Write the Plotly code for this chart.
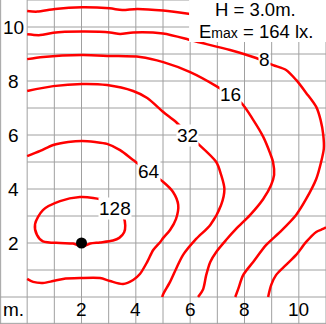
import plotly.graph_objects as go

# ---- data (metres) ----
c4_x = [0, 0.37, 1.03, 2.02, 3.04, 3.5, 4.05, 5.0, 6.0, 6.5]
c4_y = [10.59, 10.57, 10.67, 10.73, 10.69, 10.63, 10.67, 10.61, 10.48, 10.4]

c8_x = [0, 0.48, 0.96, 2.02, 3.05, 3.42, 3.90, 5.0, 5.93, 6.22, 7.47, 8.43, 9.05, 9.53,
        9.90, 10.27, 10.64, 10.80, 10.90, 10.92, 10.82, 10.64, 10.27, 9.90, 9.31, 8.80,
        8.32, 7.95, 7.77, 7.66]
c8_y = [9.73, 9.70, 9.79, 9.83, 9.80, 9.74, 9.80, 9.76, 9.54, 9.46, 9.15, 8.85, 8.59, 8.41,
        8.04, 7.56, 7.04, 6.56, 6.0, 5.5, 5.0, 4.37, 3.63, 3.04, 2.41, 1.93,
        1.30, 0.81, 0.30, 0]

c16_x = [0, 0.59, 2.02, 3.05, 4.16, 5.01, 6.0, 6.96, 7.88, 8.32, 8.69, 8.94, 9.05, 9.09,
         8.98, 8.69, 8.21, 7.69, 7.32, 6.96, 6.74, 6.59, 6.48, 6.29]
c16_y = [8.81, 8.89, 8.96, 8.93, 8.89, 8.70, 8.33, 7.81, 7.19, 6.56, 5.93, 5.33, 5.0, 4.52,
         4.15, 3.63, 3.04, 2.52, 2.11, 1.67, 1.30, 0.81, 0.30, 0]

c32_x = [0, 0.96, 2.02, 2.94, 3.90, 4.42, 5.01, 5.48, 5.92, 6.22, 6.96, 7.14, 7.26, 7.14,
         6.74, 6.22, 5.74, 5.48, 5.26, 5.01, 4.97]
c32_y = [7.63, 7.81, 7.89, 7.85, 7.63, 7.37, 6.85, 6.48, 6.02, 5.74, 5.0, 4.52, 4.0, 3.41,
         2.67, 2.15, 1.56, 1.04, 0.56, 0.11, 0]

c64_x = [0, 0.48, 0.96, 1.51, 2.02, 2.50, 2.94, 3.42, 3.90, 4.48, 5.01, 5.37, 5.56, 5.48,
         5.26, 5.01, 4.90, 4.64, 4.42, 4.15, 3.90, 3.53, 3.05, 2.68, 1.95, 1.32, 0.95,
         0.58, 0.22, 0]
c64_y = [5.22, 5.41, 5.63, 5.74, 5.78, 5.74, 5.67, 5.44, 5.07, 4.63, 4.26, 3.89, 3.41, 2.89,
         2.48, 2.19, 2.04, 1.74, 1.30, 0.85, 0.63, 0.48, 0.59, 0.70, 0.70, 0.67, 0.59,
         0.52, 0.56, 0.67]

c128_x = [1.21, 1.94, 2.43, 2.87, 3.30, 3.55, 3.61, 3.57, 3.39, 3.16, 2.68, 2.32, 2.04,
          1.69, 1.21, 0.58, 0.36, 0.29, 0.58, 1.21]
c128_y = [3.55, 3.70, 3.67, 3.57, 3.28, 2.95, 2.65, 2.40, 2.19, 2.09, 2.02, 1.98, 1.87,
          1.98, 2.00, 2.06, 2.30, 2.70, 3.22, 3.55]

cR_x = [11.0, 10.89, 10.64, 10.27, 9.90, 9.53, 9.16, 8.98, 8.87]
cR_y = [2.58, 2.52, 2.41, 2.04, 1.56, 1.19, 0.81, 0.44, 0]

contours = [(c4_x, c4_y), (c8_x, c8_y), (c16_x, c16_y), (c32_x, c32_y),
            (c64_x, c64_y), (c128_x, c128_y), (cR_x, cR_y)]

label_text = ["8", "16", "32", "64", "128"]
label_x = [8.72, 7.48, 5.92, 4.48, 3.23]
label_y = [8.78, 7.50, 5.98, 4.63, 3.28]

lamp_x = [2]
lamp_y = [2]

tick_vals = [2, 4, 6, 8, 10]
tick_text = ["2", "4", "6", "8", "10"]
grid_vals = list(range(0, 12))

FONT = "Liberation Sans, Arial, sans-serif"
RED = "#ff0000"
GRID = "#a0a0a0"
FS = 19

fig = go.Figure()
for cx, cy in contours:
    fig.add_trace(go.Scatter(x=cx, y=cy, mode="lines",
                             line=dict(color=RED, width=2.5, shape="spline", smoothing=0.8),
                             hoverinfo="skip", showlegend=False))
fig.add_trace(go.Scatter(x=lamp_x, y=lamp_y, mode="markers",
                         marker=dict(color="black", size=11),
                         hoverinfo="skip", showlegend=False))

shapes = []
for g in grid_vals:
    shapes.append(dict(type="line", xref="x", yref="paper", x0=g, x1=g, y0=0, y1=1,
                       line=dict(color=GRID, width=1), layer="below"))
for g in grid_vals[1:]:
    shapes.append(dict(type="line", xref="x", yref="y", x0=0, x1=11, y0=g, y1=g,
                       line=dict(color=GRID, width=1), layer="below"))
shapes.append(dict(type="line", xref="paper", yref="y", x0=0, x1=1, y0=0, y1=0,
                   line=dict(color=GRID, width=1), layer="below"))
shapes.append(dict(type="line", xref="paper", yref="paper", x0=0.002, x1=0.002, y0=0, y1=1,
                   line=dict(color=GRID, width=1), layer="below"))
shapes.append(dict(type="line", xref="paper", yref="paper", x0=0, x1=1, y0=0.002, y1=0.002,
                   line=dict(color=GRID, width=1), layer="below"))
shapes.append(dict(type="rect", xref="x", yref="y", x0=5.96, x1=11.2, y0=9.44, y1=11.2,
                   fillcolor="white", line=dict(width=0), layer="above"))

annotations = []
for t, x, y in zip(label_text, label_x, label_y):
    annotations.append(dict(x=x, y=y, xref="x", yref="y", text=t, showarrow=False,
                            font=dict(family=FONT, size=FS, color="black"),
                            bgcolor="white", borderpad=0))
for v, t in zip(tick_vals, tick_text):
    annotations.append(dict(x=v, y=-0.48, xref="x", yref="y", text=t, showarrow=False,
                            font=dict(family=FONT, size=FS, color="black")))
    annotations.append(dict(x=-0.5, y=v, xref="x", yref="y", text=t, showarrow=False,
                            font=dict(family=FONT, size=FS, color="black")))
annotations.append(dict(x=-0.5, y=-0.46, xref="x", yref="y", text="m.", showarrow=False,
                        font=dict(family=FONT, size=FS, color="black")))
annotations.append(dict(x=8.42, y=10.64, xref="x", yref="y", text="H = 3.0m.",
                        showarrow=False, font=dict(family=FONT, size=18.5, color="black")))
annotations.append(dict(x=8.42, y=9.82, xref="x", yref="y",
                        text="E<span style='font-size:14px'>max</span> = 164 lx.",
                        showarrow=False, font=dict(family=FONT, size=18.5, color="black")))

fig.update_layout(
    width=326, height=324,
    margin=dict(l=0, r=0, t=0, b=0),
    paper_bgcolor="white", plot_bgcolor="white",
    xaxis=dict(range=[-1, 11], visible=False, fixedrange=True),
    yaxis=dict(range=[-1, 11], visible=False, fixedrange=True),
    shapes=shapes, annotations=annotations,
    showlegend=False,
)

fig.write_html("out.html")
